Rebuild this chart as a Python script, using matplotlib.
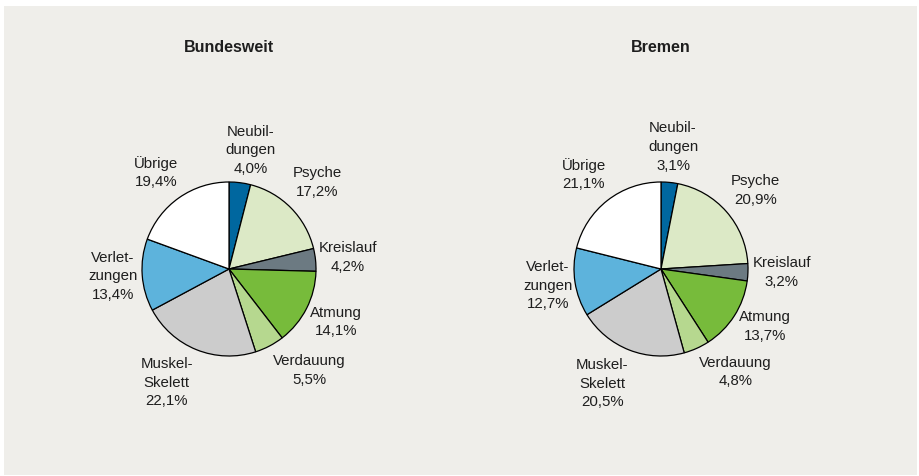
import numpy as np
import matplotlib
matplotlib.use("Agg")
import matplotlib.pyplot as plt
from matplotlib.patches import Rectangle

plt.rcParams['font.family'] = ['Liberation Sans', 'DejaVu Sans']

categories = ["Neubil-\ndungen", "Psyche", "Kreislauf", "Atmung", "Verdauung",
              "Muskel-\nSkelett", "Verlet-\nzungen", "Übrige"]
bundesweit = [4.0, 17.2, 4.2, 14.1, 5.5, 22.1, 13.4, 19.4]
bremen = [3.1, 20.9, 3.2, 13.7, 4.8, 20.5, 12.7, 21.1]
titles = ["Bundesweit", "Bremen"]

colors = ["#00679f", "#dce9c6", "#6c7a82", "#77bb3b", "#b6d88f",
          "#cccccc", "#5db3dc", "#ffffff"]

# label placement (distance in radii, angle tweak in degrees)
label_dist = [[1.40, 1.43, 1.37, 1.37, 1.48, 1.48, 1.34, 1.40],
              [1.42, 1.42, 1.39, 1.36, 1.45, 1.47, 1.31, 1.41]]
label_dang = [[-3, 0, 0, 1, 11, -7, -1, 2],
              [0, -1, 1, 4, 12, -6, -1, 1]]

W, H = 919, 477
fig = plt.figure(figsize=(W / 100, H / 100), dpi=100)
fig.patch.set_facecolor("white")
ax = fig.add_axes([0, 0, 1, 1])
ax.set_xlim(0, W)
ax.set_ylim(0, H)
ax.set_aspect("equal")
ax.axis("off")

ax.add_patch(Rectangle((4, 1), 913, 469, facecolor="#efeeea", edgecolor="none", zorder=0))

centers = [(229, H - 270), (661, H - 270)]
R = 87
txtcol = "#1e1e1e"

for k, (vals, title) in enumerate(zip([bundesweit, bremen], titles)):
    cx, cy = centers[k]
    wedges, _ = ax.pie(vals, colors=colors, startangle=90, counterclock=False,
                       center=(cx, cy), radius=R, normalize=True,
                       wedgeprops=dict(edgecolor="black", linewidth=0.9))
    for i, w in enumerate(wedges):
        mid = np.deg2rad((w.theta1 + w.theta2) / 2 + label_dang[k][i])
        d = label_dist[k][i] * R
        val = f"{vals[i]:.1f}".replace(".", ",") + "%"
        ax.text(cx + d * np.cos(mid), cy + d * np.sin(mid), categories[i] + "\n" + val,
                ha="center", va="center", fontsize=10.8, color=txtcol, linespacing=1.42)
    ax.text(cx, H - 47, title, ha="center", va="center", fontsize=11.5,
            fontweight="bold", color=txtcol)

ax.set_xlim(0, W)
ax.set_ylim(0, H)
fig.savefig("out.png", dpi=100, facecolor="white")
